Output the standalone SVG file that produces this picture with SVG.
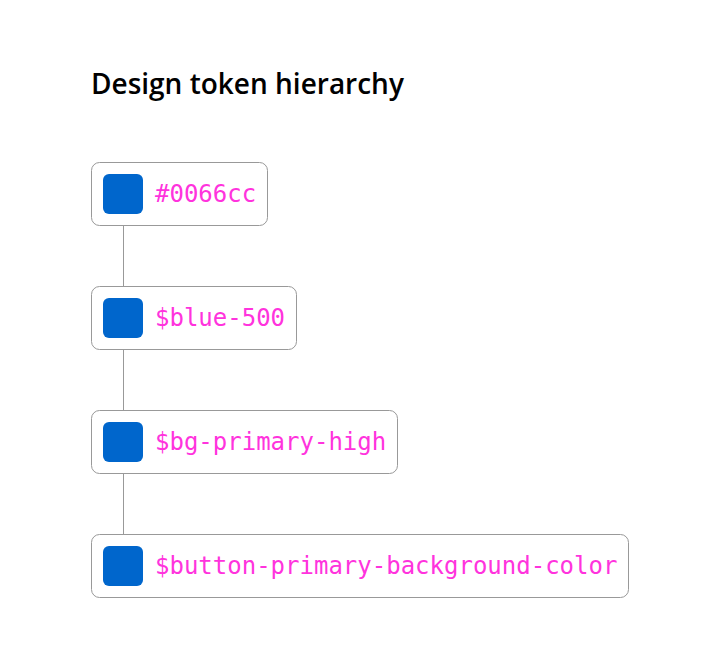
<svg xmlns="http://www.w3.org/2000/svg" width="720" height="662" viewBox="0 0 720 662">
<style>
.box{fill:#fff;stroke:#999;stroke-width:1}
.sw{fill:#0066cc}
.lbl{font-family:"DejaVu Sans Mono","Liberation Mono",monospace;font-size:24px;fill:#ff33dd}
.title{font-family:"Open Sans","Noto Sans",sans-serif;font-weight:600;font-size:28px;fill:#000}
.conn{stroke:#999;stroke-width:1;fill:none}
</style>
<rect width="720" height="662" fill="#fff"/>
<text class="title" x="91" y="94">Design token hierarchy</text>
<g id="connectors">
<line class="conn" x1="123.5" y1="225" x2="123.5" y2="287"/>
<line class="conn" x1="123.5" y1="349" x2="123.5" y2="411"/>
<line class="conn" x1="123.5" y1="473" x2="123.5" y2="535"/>
</g>
<g id="node-hex">
<rect class="box" x="91.5" y="162.5" width="176" height="63" rx="8"/>
<rect class="sw" x="103" y="174" width="40" height="40" rx="6"/>
<text class="lbl" x="155" y="202">#0066cc</text>
</g>
<g id="node-blue500">
<rect class="box" x="91.5" y="286.5" width="205" height="63" rx="8"/>
<rect class="sw" x="103" y="298" width="40" height="40" rx="6"/>
<text class="lbl" x="155" y="326">$blue-500</text>
</g>
<g id="node-bg-primary-high">
<rect class="box" x="91.5" y="410.5" width="306" height="63" rx="8"/>
<rect class="sw" x="103" y="422" width="40" height="40" rx="6"/>
<text class="lbl" x="155" y="450">$bg-primary-high</text>
</g>
<g id="node-button-bg">
<rect class="box" x="91.5" y="534.5" width="537" height="63" rx="8"/>
<rect class="sw" x="103" y="546" width="40" height="40" rx="6"/>
<text class="lbl" x="155" y="574">$button-primary-background-color</text>
</g>
</svg>
